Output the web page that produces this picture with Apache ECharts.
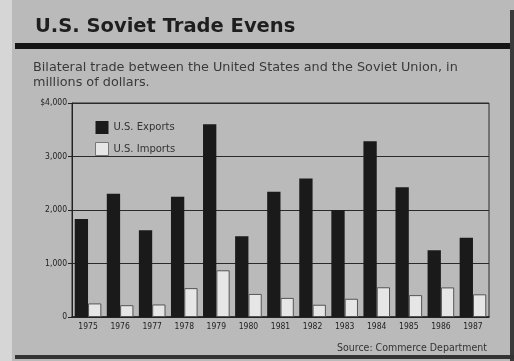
<!DOCTYPE html>
<html>
<head>
<meta charset="utf-8">
<script src="https://cdn.jsdelivr.net/npm/echarts@6/dist/echarts.min.js"></script>
<style>
html,body{margin:0;padding:0;background:#bcbcbc;}
#wrap{position:relative;width:514px;height:361px;background:#bababa;overflow:hidden;}
#chart{position:absolute;left:0;top:0;width:514px;height:361px;}
</style>
</head>
<body>
<div id="wrap"><div id="chart"></div></div>
<script>
const years = ['1975','1976','1977','1978','1979','1980','1981','1982','1983','1984','1985','1986','1987'];
const usExports = [1833, 2306, 1623, 2249, 3604, 1510, 2339, 2589, 2002, 3284, 2423, 1248, 1480];
const usImports = [254, 221, 234, 540, 873, 431, 357, 229, 341, 556, 409, 553, 424];
const yTicks = [0, 1000, 2000, 3000, 4000];
const titleText = 'U.S. Soviet Trade Evens';
const subtitleText = 'Bilateral trade between the United States and the Soviet Union, in\nmillions of dollars.';
const sourceText = 'Source: Commerce Department';

const chart = echarts.init(document.getElementById('chart'), null, {renderer: 'canvas'});
const fmt = v => v === 4000 ? '$4,000' : (v === 0 ? '0' : v.toLocaleString('en-US'));
chart.setOption({
  animation: false,
  backgroundColor: 'transparent',
  textStyle: {fontFamily: 'Liberation Sans, Arial, sans-serif'},
  title: [
    {text: titleText, left: 30, top: 12, textStyle: {fontSize: 19.5, fontWeight: 'bold', color: '#1e1e1e', fontFamily: 'DejaVu Sans'}},
    {text: subtitleText, left: 28, top: 55, textStyle: {fontSize: 12.8, fontWeight: 'normal', color: '#3a3a3a', lineHeight: 15, fontFamily: 'DejaVu Sans'}},
    {text: sourceText, right: 22, top: 338, textStyle: {fontSize: 10.5, fontWeight: 'normal', color: '#333', fontFamily: 'DejaVu Sans Condensed, DejaVu Sans'}}
  ],
  graphic: [
    {type: 'rect', shape: {x: 0, y: 0, width: 12, height: 361}, style: {fill: '#d6d6d6'}, z: -1},
    {type: 'rect', shape: {x: 15, y: 43, width: 499, height: 6}, style: {fill: '#151515'}},
    {type: 'rect', shape: {x: 510, y: 10, width: 4, height: 351}, style: {fill: '#3a3a3a'}},
    {type: 'rect', shape: {x: 15, y: 355, width: 499, height: 4}, style: {fill: '#333'}}
  ],
  legend: {
    left: 90, top: 116, orient: 'vertical', itemGap: 8, itemWidth: 13, itemHeight: 13,
    icon: 'rect',
    textStyle: {fontSize: 10, color: '#333', fontFamily: 'DejaVu Sans'},
    data: [
      {name: 'U.S. Exports'},
      {name: 'U.S. Imports', itemStyle: {color: '#e6e6e6', borderColor: '#777', borderWidth: 1}}
    ]
  },
  grid: {left: 72, right: 25, top: 103, bottom: 44, show: true, borderColor: '#2a2a2a', borderWidth: 1, backgroundColor: 'transparent'},
  xAxis: {
    type: 'category', data: years,
    axisLine: {show: true, lineStyle: {color: '#222', width: 1.5}},
    axisTick: {show: false},
    axisLabel: {fontSize: 8.5, color: '#222', margin: 5, interval: 0, fontFamily: 'DejaVu Sans Condensed, DejaVu Sans'}
  },
  yAxis: {
    type: 'value', min: 0, max: 4000, interval: 1000,
    axisLine: {show: true, lineStyle: {color: '#222'}},
    axisTick: {show: true, length: 4, lineStyle: {color: '#222'}},
    axisLabel: {fontSize: 8.5, color: '#222', margin: 5, formatter: fmt, fontFamily: 'DejaVu Sans Condensed, DejaVu Sans'},
    splitLine: {show: true, lineStyle: {color: '#2a2a2a', width: 1}}
  },
  series: [
    {name: 'U.S. Exports', type: 'bar', data: usExports, barGap: '0%', barCategoryGap: '17%',
     itemStyle: {color: '#1a1a1a'}},
    {name: 'U.S. Imports', type: 'bar', data: usImports,
     itemStyle: {color: '#e6e6e6', borderColor: '#555', borderWidth: 1}}
  ]
});
</script>
</body>
</html>
